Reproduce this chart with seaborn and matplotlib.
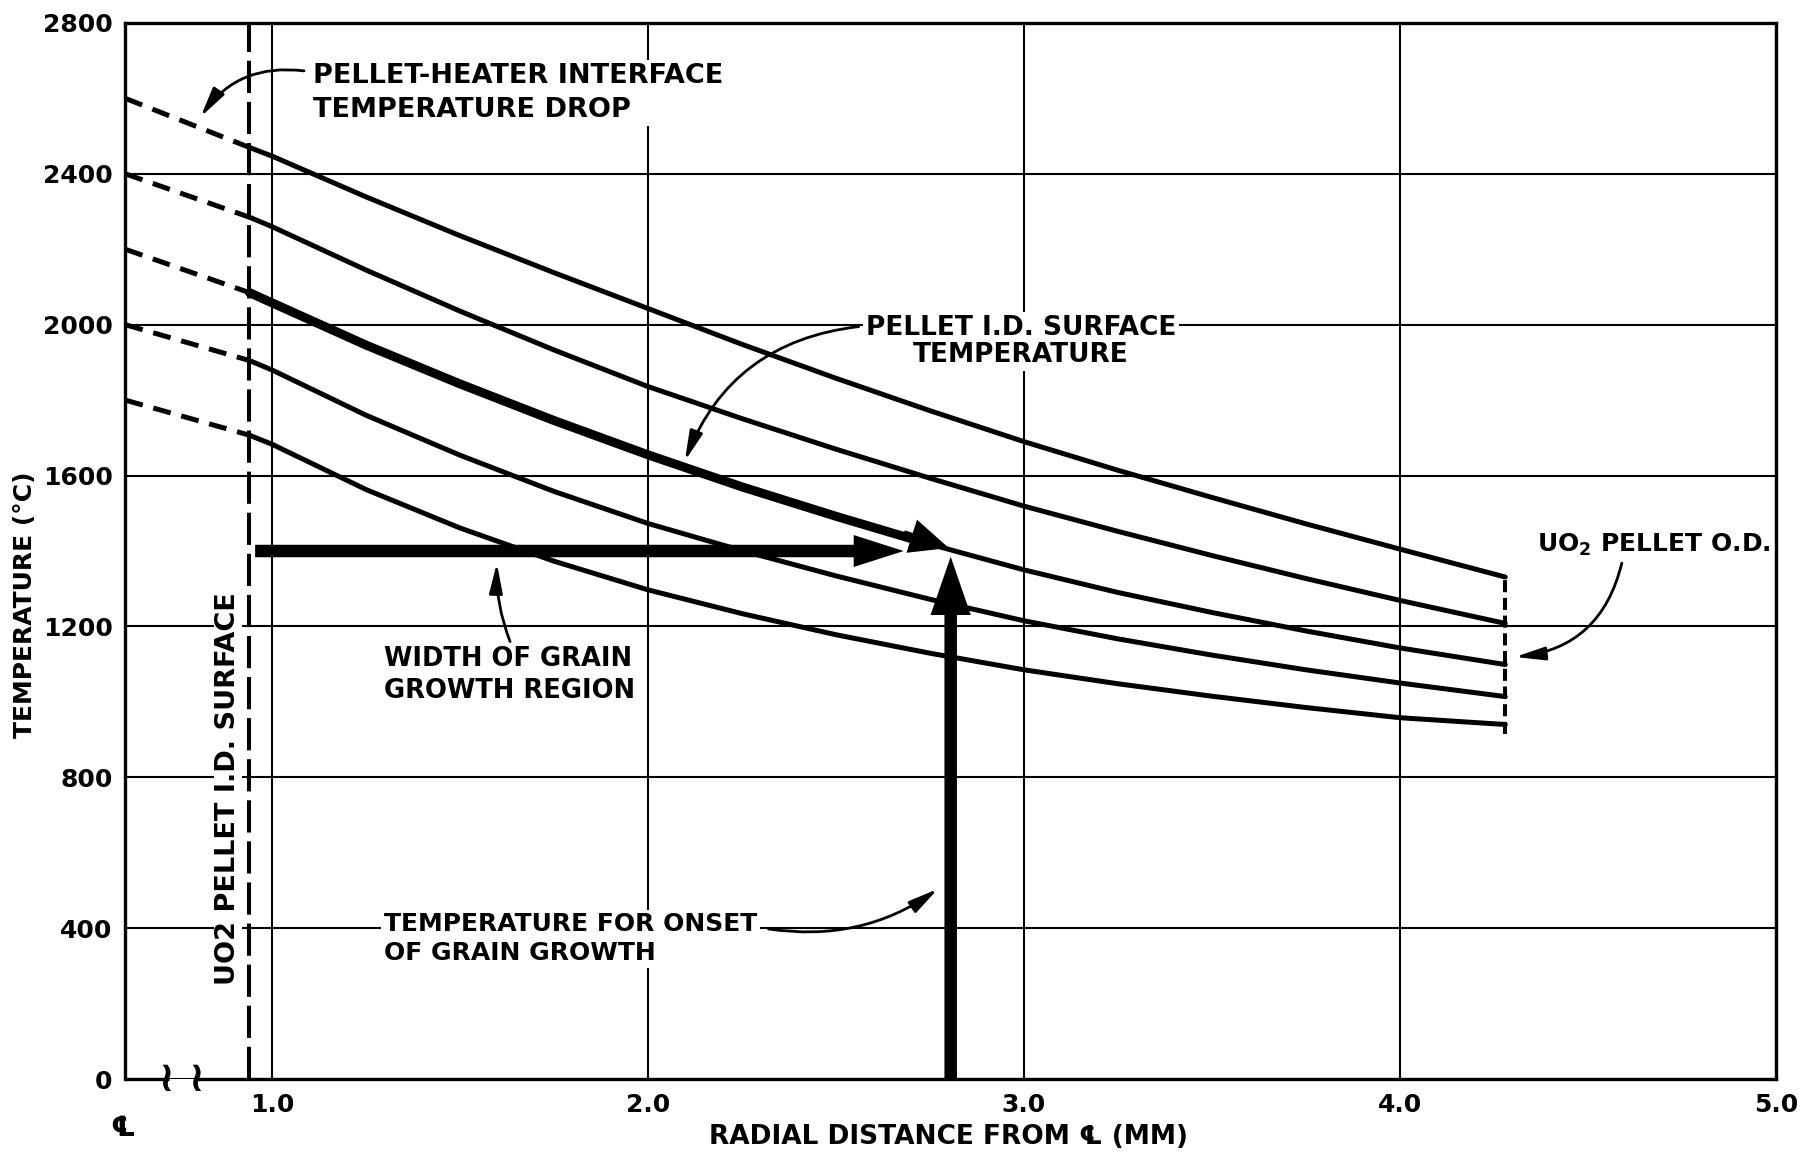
import pandas as pd
import seaborn as sns
import matplotlib.pyplot as plt

radius = [0.94, 1.0, 1.25, 1.5, 1.75, 2.0, 2.25, 2.5, 2.75, 3.0, 3.25, 3.5, 3.75, 4.0, 4.28]

# pellet temperature (deg C), highest heater power first
temp_a = [2470, 2447, 2339, 2236, 2138, 2043, 1948, 1858, 1772, 1690, 1614, 1542, 1472, 1405, 1331]
temp_b = [2285, 2260, 2145, 2036, 1933, 1836, 1751, 1670, 1593, 1519, 1452, 1388, 1327, 1269, 1208]
temp_c = [2085, 2058, 1946, 1843, 1746, 1655, 1570, 1492, 1418, 1350, 1290, 1237, 1188, 1143, 1099]
temp_d = [1905, 1880, 1760, 1654, 1558, 1473, 1401, 1334, 1272, 1215, 1167, 1124, 1085, 1050, 1014]
temp_e = [1707, 1683, 1563, 1461, 1373, 1297, 1234, 1178, 1129, 1085, 1048, 1015, 985, 958, 940]

# dashed part: heater temperature at the left edge down to the pellet I.D.
heater_r = 0.61
heater_temp = [2600, 2400, 2200, 2000, 1800]

id_surface_r = 0.94
od_surface_r = 4.28

# grain growth onset
onset_temp = 1400
onset_r = 2.805
grain_start_r = 0.955
grain_arrow_end = 2.68
highlight_end_r = 2.75

x_ticks = [1, 2, 3, 4, 5]
x_tick_labels = ['1.0', '2.0', '3.0', '4.0', '5.0']
y_ticks = [0, 400, 800, 1200, 1600, 2000, 2400, 2800]
x_left = 0.609
break_lo, break_hi = 0.725, 0.795

curves = {'a': temp_a, 'b': temp_b, 'c': temp_c, 'd': temp_d, 'e': temp_e}

solid = pd.DataFrame({
    'radius': radius * len(curves),
    'temp': sum(curves.values(), []),
    'curve': [k for k in curves for _ in radius],
})
dashed = pd.DataFrame({
    'radius': [heater_r, id_surface_r] * len(curves),
    'temp': [v for t0, t in zip(heater_temp, curves.values()) for v in (t0, t[0])],
    'curve': [k for k in curves for _ in range(2)],
})
highlight = solid[(solid['curve'] == 'c') & (solid['radius'] <= highlight_end_r)]

sns.set_theme(style='white')
plt.rcParams['font.family'] = ['DejaVu Sans', 'Noto Sans CJK JP']
plt.rcParams['font.weight'] = 'bold'
plt.rcParams['mathtext.default'] = 'regular'
for key in ('text.color', 'axes.labelcolor', 'xtick.color', 'ytick.color'):
    plt.rcParams[key] = 'black'

fig = plt.figure(figsize=(18.2, 11.61), dpi=100)
ax = fig.add_axes([0.0687, 0.0706, 0.9071, 0.9096])

sns.lineplot(data=solid, x='radius', y='temp', units='curve', estimator=None,
             color='black', lw=3.6, sort=False, ax=ax)
sns.lineplot(data=dashed, x='radius', y='temp', units='curve', estimator=None,
             color='black', lw=3.6, sort=False, linestyle=(0, (3.6, 2.2)), ax=ax)
sns.lineplot(data=highlight, x='radius', y='temp', estimator=None,
             color='black', lw=6.5, sort=False, ax=ax)

# pellet I.D. and O.D. boundaries
ax.axvline(id_surface_r, color='black', lw=2.9, linestyle=(0, (8, 2.2)), zorder=2)
ends = [t[-1] for t in curves.values()]
ax.vlines(od_surface_r, min(ends) - 25, max(ends) + 5, color='black', lw=2.9,
          linestyle=(0, (3, 1.4)))

ax.set_xlim(x_left, 5.0)
ax.set_ylim(0, 2800)
ax.set_xticks(x_ticks)
ax.set_xticklabels(x_tick_labels)
ax.set_yticks(y_ticks)
ax.tick_params(length=0, labelsize=18)
ax.tick_params(axis='y', pad=9)
ax.tick_params(axis='x', pad=10)
ax.set_axisbelow(True)
ax.grid(True, color='black', lw=1.5)
for s in ax.spines.values():
    s.set_color('black')
    s.set_linewidth(2.4)

# broken x axis near the centre line
ax.spines['bottom'].set_bounds(break_hi, 5.0)
ax.hlines(0, x_left, break_lo, color='black', lw=2.4, clip_on=False)
ax.text((break_lo + break_hi) / 2, 0, '\u2240 \u2240', ha='center', va='center',
        fontsize=30, fontweight='bold', clip_on=False)
ax.text(x_left - 0.005, -130, '\u2104', ha='center', va='center', fontsize=20)

ax.set_xlabel('RADIAL DISTANCE FROM \u2104 (MM)', fontsize=19, fontweight='bold', va='center')
ax.set_ylabel('TEMPERATURE (\u00b0C)', fontsize=18, fontweight='bold', va='center')
ax.xaxis.set_label_coords(0.4985, -0.055)
ax.yaxis.set_label_coords(-0.0606, 0.449)

# thick grain-growth arrows
ax.annotate('', xy=(grain_arrow_end, onset_temp), xytext=(grain_start_r, onset_temp),
            arrowprops=dict(arrowstyle='simple,head_length=3.6,head_width=2.3,tail_width=0.9',
                            color='black', lw=0, shrinkA=0, shrinkB=0, mutation_scale=10))
ax.annotate('', xy=(onset_r, 1385), xytext=(onset_r, 0),
            arrowprops=dict(arrowstyle='simple,head_length=4.2,head_width=2.9,tail_width=0.9',
                            color='black', lw=0, shrinkA=0, shrinkB=0, mutation_scale=10))
ax.annotate('', xy=(2.80, 1408), xytext=(2.68, 1446),
            arrowprops=dict(arrowstyle='simple,head_length=2.8,head_width=2.5,tail_width=0.5',
                            color='black', lw=0, shrinkA=0, shrinkB=0, mutation_scale=10))

box = dict(facecolor='white', edgecolor='none', pad=2)
lead = dict(arrowstyle='-|>,head_length=0.9,head_width=0.2', color='black', lw=2,
            shrinkA=0, shrinkB=0, mutation_scale=20)

ax.text(1.109, 2614, 'PELLET-HEATER INTERFACE\nTEMPERATURE DROP', ha='left', va='center',
        fontsize=19.5, linespacing=1.4, bbox=box)
ax.annotate('', xy=(0.81, 2551), xytext=(1.085, 2673),
            arrowprops=dict(lead, connectionstyle='arc3,rad=0.3'))

ax.text(2.992, 1955, 'PELLET I.D. SURFACE\nTEMPERATURE', ha='center', va='center',
        multialignment='center', fontsize=19, linespacing=1.05, bbox=box)
ax.annotate('', xy=(2.098, 1639), xytext=(2.56, 1995),
            arrowprops=dict(lead, connectionstyle='arc3,rad=0.3'))

ax.text(1.298, 1071, 'WIDTH OF GRAIN\nGROWTH REGION', ha='left', va='center',
        fontsize=18.5, linespacing=1.3, bbox=box)
ax.annotate('', xy=(1.598, 1368), xytext=(1.633, 1160),
            arrowprops=dict(lead, connectionstyle='arc3,rad=-0.1'))

ax.text(1.298, 372, 'TEMPERATURE FOR ONSET\nOF GRAIN GROWTH', ha='left', va='center',
        fontsize=18, linespacing=1.25, bbox=box)
ax.annotate('', xy=(2.771, 504), xytext=(2.32, 398),
            arrowprops=dict(lead, connectionstyle='arc3,rad=0.2'))

ax.text(4.364, 1416, 'UO$_2$ PELLET O.D.', ha='left', va='center', fontsize=18, bbox=box)
ax.annotate('', xy=(4.306, 1119), xytext=(4.59, 1368),
            arrowprops=dict(lead, connectionstyle='arc3,rad=-0.35'))

ax.text(0.883, 770, 'UO2 PELLET I.D. SURFACE', rotation=90, ha='center', va='center',
        fontsize=19.5, bbox=dict(facecolor='white', edgecolor='none', pad=1))

fig.savefig('out.png', dpi=100)
